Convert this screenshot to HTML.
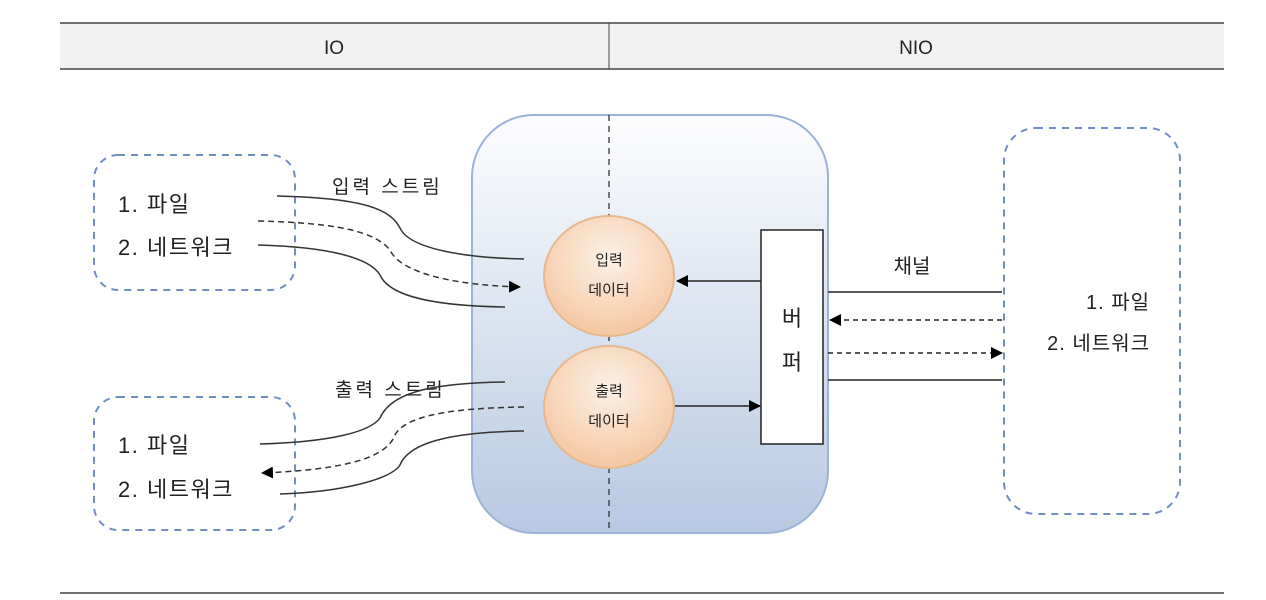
<!DOCTYPE html>
<html><head><meta charset="utf-8"><style>body{margin:0;background:#fff}svg{display:block}text{font-family:"Liberation Sans","Noto Sans CJK KR",sans-serif;fill:#222}</style></head><body>
<svg width="1266" height="600" viewBox="0 0 1266 600" xmlns="http://www.w3.org/2000/svg">
<defs>
<linearGradient id="g" x1="0" y1="0" x2="0" y2="1"><stop offset="0" stop-color="#fdfdfe"/><stop offset="1" stop-color="#b7c9e2"/></linearGradient>
<radialGradient id="c" cx="0.5" cy="0.35" r="0.7"><stop offset="0" stop-color="#fdf1e6"/><stop offset="1" stop-color="#f3c49d"/></radialGradient>
<marker id="a" markerWidth="12" markerHeight="12" refX="11" refY="6" orient="auto" markerUnits="userSpaceOnUse"><path d="M0,0 L12,6 L0,12z" fill="#000"/></marker>
</defs>
<rect x="60" y="23" width="1164" height="46" fill="#f2f2f2"/>
<line x1="60" y1="23" x2="1224" y2="23" stroke="#444" stroke-width="1.5"/>
<line x1="60" y1="69" x2="1224" y2="69" stroke="#444" stroke-width="1.5"/>
<line x1="609" y1="23" x2="609" y2="69" stroke="#444" stroke-width="1"/>
<line x1="60" y1="593" x2="1224" y2="593" stroke="#444" stroke-width="1.5"/>
<text x="334" y="54" font-size="19" text-anchor="middle">IO</text>
<text x="916" y="54" font-size="19" text-anchor="middle">NIO</text>

<rect x="472" y="115" width="356" height="418" rx="62" fill="url(#g)" stroke="#9bb3d6" stroke-width="2"/>
<line x1="609" y1="115" x2="609" y2="533" stroke="#333" stroke-dasharray="6,5" stroke-width="1.3"/>
<ellipse cx="609" cy="276" rx="65" ry="60" fill="url(#c)" stroke="#e8b88d" stroke-width="2"/>
<ellipse cx="609" cy="407" rx="65" ry="61" fill="url(#c)" stroke="#e8b88d" stroke-width="2"/>
<text x="609" y="265" font-size="15" text-anchor="middle">입력</text>
<text x="609" y="295" font-size="15" text-anchor="middle">데이터</text>
<text x="609" y="396" font-size="15" text-anchor="middle">출력</text>
<text x="609" y="426" font-size="15" text-anchor="middle">데이터</text>
<rect x="761" y="230" width="62" height="214" fill="#fff" stroke="#222" stroke-width="1.5"/>
<text x="792" y="326" font-size="22" text-anchor="middle">버</text>
<text x="792" y="370" font-size="22" text-anchor="middle">퍼</text>
<line x1="761" y1="281" x2="677" y2="281" stroke="#222" stroke-width="1.5" marker-end="url(#a)"/>
<line x1="675" y1="406" x2="760" y2="406" stroke="#222" stroke-width="1.5" marker-end="url(#a)"/>
<line x1="828" y1="292" x2="1002" y2="292" stroke="#222" stroke-width="1.5"/>
<line x1="1002" y1="320" x2="830" y2="320" stroke="#222" stroke-width="1.5" stroke-dasharray="5,4" marker-end="url(#a)"/>
<line x1="828" y1="353" x2="1002" y2="353" stroke="#222" stroke-width="1.5" stroke-dasharray="5,4" marker-end="url(#a)"/>
<line x1="828" y1="380" x2="1002" y2="380" stroke="#222" stroke-width="1.5"/>
<text x="912" y="273" font-size="20" text-anchor="middle">채널</text>
<rect x="1004" y="128" width="176" height="386" rx="32" fill="none" stroke="#6f8fc2" stroke-width="2" stroke-dasharray="7,6"/>
<text x="1150" y="309" font-size="20" text-anchor="end" letter-spacing="1">1. 파일</text>
<text x="1150" y="350" font-size="20" text-anchor="end" letter-spacing="1">2. 네트워크</text>

<rect x="94" y="155" width="201" height="135" rx="24" fill="none" stroke="#6f8fc2" stroke-width="2" stroke-dasharray="7,6"/>
<rect x="94" y="397" width="201" height="133" rx="24" fill="none" stroke="#6f8fc2" stroke-width="2" stroke-dasharray="7,6"/>
<text x="118" y="212" font-size="22" letter-spacing="1.5">1. 파일</text>
<text x="118" y="255" font-size="22" letter-spacing="1.5">2. 네트워크</text>
<text x="118" y="453" font-size="22" letter-spacing="1.5">1. 파일</text>
<text x="118" y="497" font-size="22" letter-spacing="1.5">2. 네트워크</text>
<text x="332" y="193" font-size="19" letter-spacing="3">입력 스트림</text>
<text x="335" y="396" font-size="19" letter-spacing="3">출력 스트림</text>
<g fill="none" stroke="#333" stroke-width="1.5">
<path d="M277,196 C360,198 390,208 400,228 C410,250 470,258 524,259"/>
<path d="M258,221 C340,223 375,232 390,250 C400,272 450,285 520,287" stroke-dasharray="6,4" marker-end="url(#a)"/>
<path d="M258,245 C330,247 370,258 380,275 C390,298 440,306 505,307"/>
<path d="M260,444 C330,442 370,432 380,418 C392,390 440,383 505,382"/>
<path d="M524,407 C450,408 405,416 395,435 C385,462 330,470 262,473" stroke-dasharray="6,4" marker-end="url(#a)"/>
<path d="M280,494 C340,492 390,480 400,465 C410,440 460,432 524,431"/>
</g>
</svg>
</body></html>
